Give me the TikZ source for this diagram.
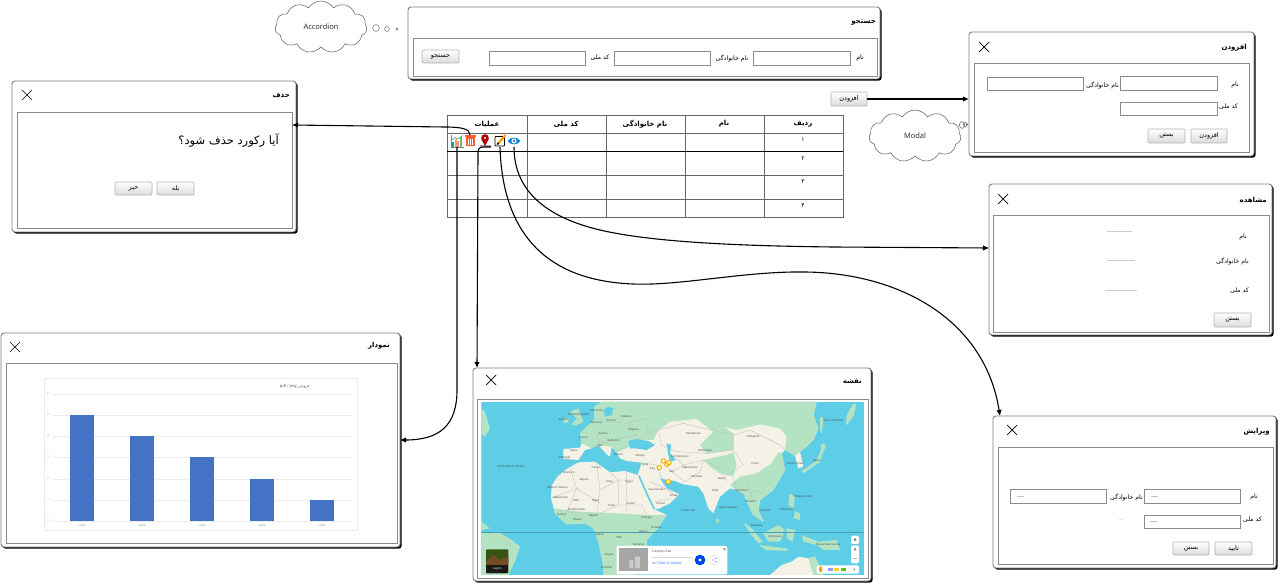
\documentclass[tikz,border=0pt]{standalone}
\usepackage{fontspec}
\setmainfont{Open Sans}
\newfontfamily\arabicfont[Script=Arabic]{DejaVu Sans}
\TeXXeTstate=1
\usetikzlibrary{arrows.meta,shapes.symbols,calc}
\definecolor{frameg}{HTML}{7F7F7F}
\definecolor{lineg}{HTML}{666666}
\definecolor{fieldg}{HTML}{8A8A8A}
\definecolor{barblue}{HTML}{4472C4}
\definecolor{gridg}{HTML}{EDEDED}
\definecolor{seab}{HTML}{5ECDE6}
\definecolor{landp}{HTML}{F4F1E6}
\definecolor{landg}{HTML}{B4E3C4}
\definecolor{bordg}{HTML}{B5B5B5}
\definecolor{mapt}{HTML}{444444}
\newcommand{\fa}[1]{{\arabicfont\beginR #1\endR}}
\newcommand{\fab}[1]{{\arabicfont\bfseries\beginR #1\endR}}
\newcommand{\fz}[1]{\fontsize{#1}{#1}\selectfont}
\tikzset{
  winbox/.style={draw=frameg,line width=.9pt,fill=white,rounded corners=3pt,anchor=north west,inner sep=0,outer sep=0},
  innerbox/.style={draw=fieldg,line width=.9pt,fill=white,anchor=north west,inner sep=0,outer sep=0},
  fieldbox/.style={draw=fieldg,line width=.7pt,fill=white,anchor=north west,inner sep=0,outer sep=0},
  btnbox/.style={draw=black!30,line width=.6pt,rounded corners=1pt,top color=white,bottom color=black!14,anchor=north west,inner sep=0,outer sep=0,font=\fz{6.5}},
  lbl/.style={inner sep=0,font=\fz{6.2}},
  wtitle/.style={inner sep=0,anchor=east,font=\fz{7}},
  thead/.style={inner sep=0,font=\fz{7}},
  tnum/.style={inner sep=0,font=\fz{6}},
  conn/.style={draw=black,line width=1.1pt,-{Latex[length=6pt,width=5.5pt]}},
  thought/.style={draw=black!65,line width=.5pt,fill=white,cloud,cloud puffs=11,cloud puff arc=115,aspect=1.7,inner sep=0,font=\fz{7.5},text=black!85},
  bub/.style={draw=black!60,line width=.5pt,fill=white},
  iconbox/.style={inner sep=0,minimum size=12pt,outer sep=0},
  mlab/.style={inner sep=0,font=\fz{2.8},text=mapt},
  mbord/.style={draw=bordg,line width=.25pt},
  ring/.style={draw=orange!70!yellow,line width=.9pt,fill=yellow!35},
}
\newcommand{\win}[9]{%
  \fill[black,rounded corners=3pt,shift={(1.7,1.7)}] (#2,#3) rectangle (#4,#5);
  \node[winbox,minimum width={(#4-#2)*1pt},minimum height={(#5-#3)*1pt}] (#1win) at (#2,#3) {};
  \node[innerbox,minimum width={(#8-#6)*1pt},minimum height={(#9-#7)*1pt}] (#1inner) at (#6,#7) {};
}
\newcommand{\closex}[2]{\draw[black,line width=.7pt] (#1-5,#2-5) -- (#1+5,#2+5) (#1-5,#2+5) -- (#1+5,#2-5);}
\newcommand{\fld}[5]{\node[fieldbox,minimum width={(#4-#2)*1pt},minimum height={(#5-#3)*1pt}] (#1) at (#2,#3) {};}
\newcommand{\btn}[6]{\node[btnbox,minimum width={(#4-#2)*1pt},minimum height={(#5-#3)*1pt}] (#1) at (#2,#3) {\fa{#6}};}
\begin{document}
\begin{tikzpicture}[x=1pt,y=-1pt]
\useasboundingbox (0,0) rectangle (1280,585);
\fill[white] (0,0) rectangle (1280,585);

% ---- search window
\win{search}{408}{7}{880}{79}{413}{38}{877}{76}
\node[wtitle] (searcht) at (876,23) {\fab{جستجو}};
\btn{searchb}{422}{50}{459}{63}{جستجو}
\fld{sf1}{489}{51}{585}{65}
\node[lbl] (sl1) at (600,58) {\fa{کد ملی}};
\fld{sf2}{614}{51}{710}{65}
\node[lbl] (sl2) at (732,58) {\fa{نام خانوادگی}};
\fld{sf3}{753}{51}{850}{65}
\node[lbl] (sl3) at (860,58) {\fa{نام}};

% ---- clouds
\node[thought,minimum width=92pt,minimum height=52pt] (acc) at (321,27) {Accordion};
\draw[bub] (376,28) circle (3.4) (387,29) circle (2.4) (397,29) circle (1.1);
\node[thought,minimum width=92pt,minimum height=52pt] (mod) at (915,136) {Modal};
\draw[bub] (962,125) ellipse (2.6 and 3.4) (965,124.5) ellipse (1.6 and 2.4) (967,124.5) circle (.8);

% ---- add window
\win{add}{969}{32}{1254}{156}{974}{63}{1249}{152}
\closex{984}{47}
\node[wtitle] (addt) at (1247,48) {\fab{افزودن}};
\fld{af1}{987}{77}{1083}{90}
\node[lbl,anchor=east] (al1) at (1119,85) {\fa{نام خانوادگی}};
\fld{af2}{1120}{76}{1217}{90}
\node[lbl] (al2) at (1235,85) {\fa{نام}};
\fld{af3}{1120}{102}{1217}{115}
\node[lbl,anchor=east] (al3) at (1238,107) {\fa{کد ملی}};
\btn{ab1}{1191}{129}{1227}{143}{افزودن}
\btn{ab2}{1148}{129}{1185}{143}{بستن}
\btn{addbtn}{831}{92}{867}{106}{افزودن}

% ---- table
\node[draw=lineg,line width=.7pt,anchor=north west,inner sep=0,outer sep=0,minimum width=396pt,minimum height=102pt] (tbl) at (447,115) {};
\draw[lineg,line width=.7pt] (527,115) -- (527,217) (606,115) -- (606,217) (685,115) -- (685,217) (764,115) -- (764,217)
  (447,133) -- (843,133) (447,175) -- (843,175) (447,199) -- (843,199);
\draw[black,line width=.8pt] (447,151) -- (843,151);
\node[thead] (h1) at (803,124) {\fab{ردیف}};
\node[thead] (h2) at (724,124) {\fab{نام}};
\node[thead] (h3) at (645,124) {\fab{نام خانوادگی}};
\node[thead] (h4) at (566,124) {\fab{کد ملی}};
\node[thead] (h5) at (487,124) {\fab{عملیات}};
\node[tnum] (n1) at (803,140) {\fa{۱}};
\node[tnum] (n2) at (803,159) {\fa{۲}};
\node[tnum] (n3) at (803,182) {\fa{۳}};
\node[tnum] (n4) at (803,206) {\fa{۴}};

% ---- icons
\node[iconbox] (eye) at (514,141) {};
\fill[cyan!70!blue] (507.5,141) .. controls (511,136.5) and (517,136.5) .. (520.5,141) .. controls (517,145.5) and (511,145.5) .. (507.5,141) -- cycle;
\fill[white] (514,141) circle (2.5);
\fill[cyan!60!blue!90!black] (514,141) circle (1.4);
\node[iconbox] (pencil) at (500,141) {};
\draw[black,line width=.9pt,fill=white,rounded corners=.8pt] (495,136.5) rectangle (504.5,146);
\draw[orange!80!yellow,line width=2.2pt] (498.5,143) -- (505.5,135);
\fill[black] (496.8,145) -- (497.5,142.3) -- (499.5,144) -- cycle;
\node[iconbox] (pin) at (485,141) {};
\fill[gray!70] (479.5,145) rectangle (491,147);
\fill[red!70!black] (485,138) circle (3.8);
\fill[red!70!black] (481.4,139.5) -- (488.6,139.5) -- (485,146) -- cycle;
\fill[white] (485,138) circle (1.2);
\node[iconbox] (trash) at (470,141) {};
\fill[red!60!orange!80] (465.5,137.5) rectangle (474.5,146.5);
\fill[red!60!orange!80] (464.5,135) rectangle (475.5,136.8);
\draw[white,line width=.7pt] (468,139) -- (468,145) (470,139) -- (470,145) (472,139) -- (472,145);
\node[iconbox] (chartic) at (457,141) {};
\fill[teal!70!cyan] (452,142) rectangle (454,147);
\fill[orange!70] (454.5,139.5) rectangle (456.5,147);
\fill[magenta!50] (457,141) rectangle (459,147);
\fill[green!60!black!60] (459.5,137) rectangle (462,147);
\draw[gray,line width=.4pt] (451.5,135.5) -- (451.5,147.5) -- (463.5,147.5);
\draw[teal,line width=.4pt] (452,140) -- (455,137.5) -- (458,139) -- (462.5,135.5);

% ---- delete window
\win{del}{12}{81}{296}{232}{17}{112}{292}{228}
\closex{27}{95}
\node[wtitle] (delt) at (290,95) {\fab{حذف}};
\node[inner sep=0,anchor=east,font=\fz{11.5}] (delq) at (279,141) {\fa{آیا رکورد حذف شود؟}};
\btn{db1}{157}{182}{194}{195}{بله}
\btn{db2}{115}{182}{152}{195}{خیر}

% ---- view window
\win{view}{989}{184}{1272}{335}{993}{215}{1269}{332}
\closex{1003}{199}
\node[wtitle] (viewt) at (1267,200) {\fab{مشاهده}};
\node[lbl,anchor=east] (vl1) at (1247,237) {\fa{نام}};
\node[lbl,anchor=east] (vl2) at (1249,261) {\fa{نام خانوادگی}};
\node[lbl,anchor=east] (vl3) at (1249,291) {\fa{کد ملی}};
\draw[black!20,line width=.5pt] (1107,231) -- (1132,231) (1107,260.5) -- (1135,260.5) (1105,290) -- (1137,290);
\btn{vb1}{1214}{313}{1251}{327}{بستن}

% ---- edit window
\win{edit}{993}{416}{1276}{568}{998}{447}{1273}{564}
\closex{1012}{430}
\node[wtitle] (editt) at (1270,432) {\fab{ویرایش}};
\fld{ef1}{1010}{489}{1106}{503}
\node[lbl,anchor=east] (el1) at (1143,497) {\fa{نام خانوادگی}};
\fld{ef2}{1144}{489}{1240}{503}
\node[lbl] (el2) at (1254,497) {\fa{نام}};
\fld{ef3}{1144}{515}{1240}{528}
\node[lbl,anchor=east] (el3) at (1262,520) {\fa{کد ملی}};
\node[inner sep=0,font=\fz{5},text=black!50] (eld) at (1121,520) {...};
\draw[black!25,line width=.4pt] (1017,496) -- (1024,496) (1151,496) -- (1158,496) (1150,521.5) -- (1157,521.5);
\btn{eb1}{1215}{542}{1252}{555}{تایید}
\btn{eb2}{1173}{542}{1209}{555}{بستن}

% ---- chart window
\win{chart}{1}{333}{400}{547}{6}{363}{397}{543}
\closex{15}{347}
\node[wtitle] (chartt) at (390,346) {\fab{نمودار}};
\draw[black!8,line width=.5pt,fill=white] (44,378) rectangle (357,530);
\foreach \yy in {394,415,436,457,479,500,521} \draw[gridg,line width=.5pt] (52,\yy) -- (352,\yy);
\foreach \xx/\tp in {70/415,130/436,190/457,250/479,310/500} \fill[barblue] (\xx,\tp) rectangle (\xx+24,521);
\foreach \yy/\vv in {394/6,415/5,436/4,457/3,479/2,500/1,521/0} \node[inner sep=0,font=\fz{2.5},text=black!60] at (48,\yy) {\vv};
\node[inner sep=0,font=\fz{2.5},text=black!60] (cx1) at (82,526) {14/04};
\node[inner sep=0,font=\fz{2.5},text=black!60] (cx2) at (142,526) {14/03};
\node[inner sep=0,font=\fz{2.5},text=black!60] (cx3) at (202,526) {14/04};
\node[inner sep=0,font=\fz{2.5},text=black!60] (cx4) at (262,526) {14/05};
\node[inner sep=0,font=\fz{2.5},text=black!60] (cx5) at (322,526) {14/06};
\node[inner sep=0,font=\fz{4},text=black!65] (ct) at (295,386.5) {pdf / png \fa{خروجی}};

% ---- map window
\win{map}{473}{368}{871}{581}{477}{399}{868}{578}
\closex{491}{380}
\node[wtitle] (mapt) at (862,381) {\fab{نقشه}};
\begin{scope}[shift={(470,365)},x=.33333pt,y=-.33333pt]
\begin{scope}
\clip (34,110) rectangle (1183,630);
\fill[seab] (34,110) rectangle (1183,630);
% Greenland / Americas
\fill[landg] (34,130) -- (45,140) -- (60,190) -- (45,215) -- (34,205) -- cycle;
\fill[landg] (34,470) -- (60,490) -- (34,495) -- cycle;
\fill[landg] (34,505) -- (85,500) -- (125,525) -- (150,545) -- (135,590) -- (115,630) -- (34,630) -- cycle;
% Eurasia
\fill[landp] (280,282) -- (280,252) -- (330,248) -- (335,235) -- (330,205) -- (350,185) -- (372,165) -- (372,125) -- (395,110) -- (1040,110) -- (1030,150) -- (1045,190) -- (1030,225) -- (1010,245) -- (990,260) -- (1000,305) -- (985,310) -- (975,272) -- (945,255) -- (935,265) -- (945,315) -- (910,375) -- (870,405) -- (865,435) -- (880,470) -- (850,450) -- (835,420) -- (820,385) -- (795,375) -- (780,370) -- (750,395) -- (730,445) -- (715,430) -- (700,385) -- (685,365) -- (640,358) -- (615,348) -- (590,352) -- (572,345) -- (590,370) -- (628,388) -- (600,415) -- (565,432) -- (550,430) -- (525,378) -- (503,330) -- (515,293) -- (470,288) -- (450,280) -- (440,262) -- (425,245) -- (420,275) -- (410,268) -- (385,240) -- (365,250) -- (345,255) -- (325,285) -- cycle;
% green regions of Eurasia
\fill[landg] (335,235) -- (330,205) -- (350,185) -- (372,165) -- (372,125) -- (395,110) -- (1040,110) -- (1030,150) -- (1045,190) -- (1030,225) -- (1010,245) -- (990,260) -- (975,272) -- (945,255) -- (950,215) -- (930,190) -- (870,178) -- (800,195) -- (760,185) -- (730,200) -- (680,162) -- (600,170) -- (565,195) -- (550,225) -- (500,225) -- (470,250) -- (440,262) -- (425,245) -- (385,240) -- (365,250) -- cycle;
\fill[landg] (935,265) -- (945,315) -- (910,375) -- (870,405) -- (865,435) -- (880,470) -- (850,450) -- (835,420) -- (820,385) -- (795,375) -- (780,360) -- (810,335) -- (860,325) -- (905,295) -- (925,262) -- cycle;
\fill[landg] (700,285) -- (770,270) -- (790,262) -- (800,300) -- (790,335) -- (750,325) -- (720,305) -- cycle;
\fill[landg] (730,200) -- (760,185) -- (790,205) -- (790,255) -- (710,265) -- (690,240) -- cycle;
% inland seas
\fill[seab] (475,228) -- (500,222) -- (535,228) -- (555,240) -- (530,255) -- (495,250) -- (480,250) -- cycle;
\fill[seab] (590,235) -- (604,240) -- (600,265) -- (618,285) -- (600,290) -- (595,270) -- cycle;
\fill[seab] (400,135) -- (415,125) -- (430,130) -- (425,150) -- (405,155) -- cycle;
\fill[seab] (570,340) -- (592,345) -- (615,348) -- (622,362) -- (603,358) -- (590,368) -- cycle;
% Islands
\fill[landg] (300,140) -- (325,130) -- (340,170) -- (318,182) -- (305,178) -- (320,160) -- cycle;
\fill[landg] (280,162) -- (295,158) -- (295,172) -- (282,175) -- cycle;
\fill[landg] (995,318) -- (1015,305) -- (1040,285) -- (1052,258) -- (1052,240) -- (1062,235) -- (1068,245) -- (1058,265) -- (1050,290) -- (1015,315) -- (1000,325) -- cycle;
\fill[landg] (1050,155) -- (1060,160) -- (1056,205) -- (1050,195) -- cycle;
\fill[landg] (1130,150) -- (1150,115) -- (1160,118) -- (1150,155) -- (1128,182) -- cycle;
\fill[landg] (958,385) -- (975,395) -- (970,430) -- (955,420) -- cycle;
\fill[landg] (975,440) -- (990,445) -- (990,465) -- (970,460) -- cycle;
\fill[landg] (818,470) -- (845,490) -- (878,530) -- (865,535) -- (840,505) -- cycle;
\fill[landg] (880,505) -- (925,480) -- (945,495) -- (930,530) -- (895,530) -- cycle;
\fill[landg] (865,540) -- (950,550) -- (955,557) -- (890,556) -- cycle;
\fill[landg] (950,490) -- (975,495) -- (968,530) -- (950,520) -- cycle;
\fill[landg] (995,510) -- (1045,530) -- (1100,525) -- (1110,555) -- (1060,555) -- (1040,540) -- (1000,530) -- cycle;
\fill[landg] (740,455) -- (748,470) -- (738,475) -- cycle;
% Australia
\fill[landp] (900,630) -- (935,600) -- (965,590) -- (985,575) -- (1015,580) -- (1035,575) -- (1060,630) -- cycle;
\fill[landg] (1015,580) -- (1035,575) -- (1060,630) -- (1030,630) -- cycle;
% Africa
\fill[landp] (245,362) -- (262,335) -- (290,312) -- (325,292) -- (375,290) -- (420,322) -- (465,318) -- (503,330) -- (530,390) -- (558,435) -- (590,450) -- (565,488) -- (530,525) -- (530,570) -- (500,605) -- (495,630) -- (400,630) -- (398,590) -- (385,530) -- (370,490) -- (345,475) -- (290,478) -- (255,445) -- (243,400) -- cycle;
\fill[landg] (250,430) -- (330,440) -- (440,445) -- (530,450) -- (590,450) -- (565,488) -- (530,525) -- (530,570) -- (500,605) -- (495,630) -- (400,630) -- (398,590) -- (385,530) -- (370,490) -- (345,475) -- (290,478) -- (255,445) -- cycle;
\draw[seab,line width=1.6pt] (507,332) -- (530,385) -- (553,433);
\fill[landg] (612,580) -- (625,565) -- (625,590) -- (610,625) -- (603,610) -- cycle;
% Borders
\draw[mbord] (300,310) -- (320,370) -- (390,415) (320,370) -- (245,400) (380,295) -- (390,375) -- (445,345) -- (420,322) (445,345) -- (445,420) (445,345) -- (470,345) (470,320) -- (470,440) (390,375) -- (380,450) (445,420) -- (380,450) -- (290,440) (515,420) -- (530,450) (445,420) -- (515,420) (290,440) -- (320,370);
\draw[mbord] (540,350) -- (590,372) -- (620,395) (555,410) -- (600,400);
\draw[mbord] (515,293) -- (560,300) -- (575,345) (575,280) -- (605,320) -- (645,350) (605,320) -- (640,300) -- (700,285) -- (750,310) -- (770,350) (640,300) -- (620,280) (645,350) -- (690,320) -- (700,285) (620,260) -- (710,265) -- (790,255) -- (820,300) -- (770,330) (790,255) -- (790,210) -- (840,195) -- (930,240) -- (945,255);
\draw[mbord] (565,195) -- (640,175) -- (720,195) -- (790,210) (565,195) -- (575,240) -- (620,260) (500,225) -- (535,205) -- (565,195);
\draw[mbord] (380,200) -- (390,240) -- (360,250) (410,170) -- (470,175) -- (500,210) -- (430,225) -- (390,240) (470,175) -- (530,160) -- (535,205);
\draw[mbord] (790,340) -- (800,375) -- (830,395) (830,345) -- (850,410) (850,375) -- (885,385);
% equator
\draw[black!22!seab,line width=.3pt] (34,502) -- (1183,502);
% labels
\foreach \px/\py/\tx in {326/148/United Kingdom,280/163/Ireland,380/136/Denmark,423/165/Poland,470/155/Belarus,490/193/Ukraine,378/172/Germany,340/217/France,400/205/Austria,430/225/Romania,390/242/Italy,312/257/Spain,284/277/Portugal,445/270/Greece,510/273/Türkiye,525/298/Syria,547/312/Iraq,605/320/Iran,630/273/Turkmenistan,670/205/Kazakhstan,705/255/Uzbekistan,660/308/Afghanistan,680/333/Pakistan,755/342/Nepal,735/377/India,850/215/Mongolia,855/295/China,975/295/South Korea,1040/288/Japan,815/378/Myanmar,840/410/Thailand,885/435/Vietnam,950/435/Philippines,860/482/Malaysia,915/513/Indonesia,1075/540/Papua New Guinea,560/372/Saudi Arabia,478/351/Egypt,418/351/Libya,342/345/Algeria,297/322/Morocco,378/307/Tunisia,612/390/Oman,572/416/Yemen,482/414/Sudan,425/421/Chad,377/408/Niger,318/405/Mali,272/398/Mauritania,262/368/Western Sahara,320/433/Burkina Faso,370/451/Nigeria,322/464/Ghana,275/447/Guinea,530/457/Ethiopia,558/488/Somalia,520/500/Kenya,388/507/Gabon,448/519/DRC,505/537/Tanzania,418/570/Angola,410/607/Namibia,123/303/North Atlantic Ocean,655/437/Indian Sea,775/428/Bay of Bengal,1000/395/Philippine Sea,1090/165/Sea of Okhotsk}
  {\node[mlab] at (\px,\py) {\tx};}
% markers
\foreach \px/\py in {580/288,590/298,597/293,568/308,595/350} \draw[ring] (\px,\py) circle (6.5);
% thumbnail
\fill[black!75!green!70!brown,rounded corners=1pt] (48,553) rectangle (115,625);
\fill[brown!60!black] (48,590) -- (70,570) -- (90,585) -- (115,575) -- (115,600) -- (48,600) -- cycle;
\fill[black!90] (48,600) rectangle (115,625);
\node[inner sep=0,font=\fz{3},text=white] (mapl) at (82,611) {Layers};
% info card
\fill[white,rounded corners=2pt] (440,543) rectangle (772,628);
\fill[gray!70] (448,550) rectangle (534,618);
\fill[gray!40] (478,585) rectangle (490,610) (495,575) rectangle (510,610);
\node[inner sep=0,font=\fz{3.4},text=black!70,anchor=west] (mapc) at (546,559) {Caspian Sea};
\draw[black!15,line width=.3pt] (546,575) -- (665,575);
\node[inner sep=0,font=\fz{3},text=blue!60!cyan,anchor=west] (mapd) at (546,595) {44.77068, 67.946999};
\fill[blue!70!cyan!90!black] (690,585) circle (16);
\fill[white] (690,585) circle (5);
\draw[black!15,line width=.3pt,fill=white] (733,585) circle (14);
\fill[blue!60!cyan] (729,585) circle (1.8) (738,580) circle (1.8) (738,590) circle (1.8);
\draw[black!60,line width=.3pt] (760,549) -- (767,556) (760,556) -- (767,549);
% controls
\fill[white,rounded corners=2pt] (1143,512) rectangle (1167,537);
\fill[black!50] (1155,524) circle (4.5);
\fill[white,rounded corners=2pt] (1143,541) rectangle (1167,595);
\fill[black!50] (1155,553) circle (4);
\draw[black!30,line width=.4pt] (1150,579) -- (1160,579);
\fill[white,rounded corners=2pt] (1040,601) rectangle (1167,626);
\fill[orange!80!yellow] (1052,613) ellipse (5 and 9);
\fill[blue!40] (1075,608) rectangle (1090,619);
\fill[yellow!70!brown] (1093,608) rectangle (1108,619);
\fill[green!50!brown] (1112,608) rectangle (1127,619);
\fill[black!45] (1153,613) circle (3);
\end{scope}
\end{scope}

% ---- connectors
\draw[conn] (addbtn.east) -- (addbtn.east -| addwin.west);
\draw[conn] (trash.north) .. controls (470,129) and (462,127) .. (445,127) -- ([yshift=45pt]delinner.east);
\draw[conn] (eye.south) .. controls (514,190) and (545,217) .. (600,230) .. controls (655,243) and (750,246) .. (833,247) -- ([yshift=11.5pt]viewwin.west);
\draw[conn] (pencil.south) .. controls (502,215) and (530,280) .. (633,284) .. controls (680,286) and (745,271) .. (805,272) .. controls (900,273) and (985,320) .. ([xshift=-134.5pt]editwin.north);
\draw[conn] (pin.south east) -- (483,147) .. controls (479.5,147) and (478,149) .. (478,153) -- ([xshift=-195pt]mapwin.north);
\draw[conn] (chartic.south) -- (457,390) .. controls (457,425) and (440,440) .. (chartwin.east);
\end{tikzpicture}
\end{document}
